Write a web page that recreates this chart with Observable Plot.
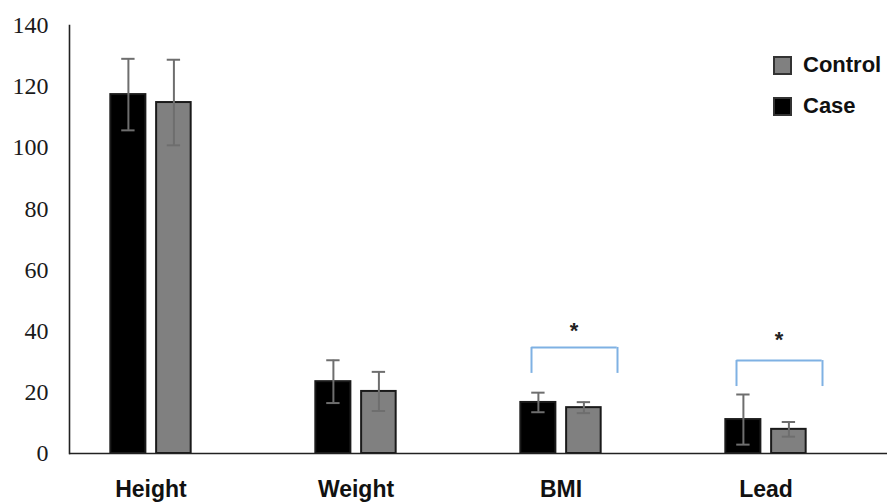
<!DOCTYPE html>
<html>
<head>
<meta charset="utf-8">
<script src="https://cdn.jsdelivr.net/npm/d3@7"></script>
<script src="https://cdn.jsdelivr.net/npm/@observablehq/plot@0.6"></script>
<style>
  body { margin: 0; background: #fff; }
  #wrap { position: relative; width: 887px; height: 504px; overflow: hidden; }
  #legend { position: absolute; left: 774px; top: 52px; }
</style>
</head>
<body>
<div id="wrap"><div id="chart"></div><div id="legend"></div></div>
<script>
// ---- data ----
const categories = ["Height", "Weight", "BMI", "Lead"];
const caseMean = [117.4, 23.5, 16.7, 11.1];
const caseSD = [11.7, 7.0, 3.2, 8.2];
const controlMean = [114.8, 20.3, 15.0, 7.9];
const controlSD = [14.0, 6.4, 1.8, 2.4];
const yTicks = [0, 20, 40, 60, 80, 100, 120, 140];
const sigCategories = ["BMI", "Lead"];
const sigBracketLow = [26.2, 21.9];
const sigBracketHigh = [34.7, 30.4];
const sigStarY = [41.5, 38.5];
const sigLabel = ["*", "*"];

// ---- tables ----
const caseRows = categories.map((c, i) => ({cat: c, group: "Case", mean: caseMean[i], lo: caseMean[i] - caseSD[i], hi: caseMean[i] + caseSD[i]}));
const controlRows = categories.map((c, i) => ({cat: c, group: "Control", mean: controlMean[i], lo: controlMean[i] - controlSD[i], hi: controlMean[i] + controlSD[i]}));
const sigRows = sigCategories.map((c, i) => ({cat: c, low: sigBracketLow[i], high: sigBracketHigh[i], star: sigStarY[i], label: sigLabel[i]}));

// ---- layout (pixels) ----
const W = 887, H = 504;
const xRange = [46.7, 869.3];
const half = (xRange[1] - xRange[0]) / categories.length / 2;
const caseBar = [-40.5, -4.8], controlBar = [5.3, 40.5];
const caseErrX = -22.6, controlErrX = 22.9, cap = 7;
const bracketX = [-29.5, 56.5], starDx = 13;
const barStroke = "#1a1a1a", errColor = "#6e6e6e", bracketColor = "#7fb1e3";

const colorDomain = ["Control", "Case"];
const colorRange = ["#808080", "#000000"];

function errMarks(rows, cx) {
  return [
    Plot.ruleX(rows, {x: "cat", y1: "lo", y2: "hi", dx: cx, stroke: errColor, strokeWidth: 2}),
    Plot.tickY(rows, {x: "cat", y: "lo", stroke: errColor, strokeWidth: 2, insetLeft: half + cx - cap, insetRight: half - cx - cap}),
    Plot.tickY(rows, {x: "cat", y: "hi", stroke: errColor, strokeWidth: 2, insetLeft: half + cx - cap, insetRight: half - cx - cap})
  ];
}

const chart = Plot.plot({
  width: W,
  height: H,
  marginLeft: 69,
  marginRight: 0,
  marginTop: 25,
  marginBottom: 51,
  style: {background: "#fff", overflow: "visible"},
  x: {domain: categories, range: xRange, padding: 0, axis: null, label: null},
  y: {domain: [0, 140], axis: null, label: null},
  color: {domain: colorDomain, range: colorRange},
  marks: [
    Plot.barY(caseRows, {x: "cat", y: "mean", fill: "group", stroke: barStroke, strokeWidth: 2,
      insetLeft: half + caseBar[0], insetRight: half - caseBar[1]}),
    Plot.barY(controlRows, {x: "cat", y: "mean", fill: "group", stroke: barStroke, strokeWidth: 2,
      insetLeft: half + controlBar[0], insetRight: half - controlBar[1]}),
    ...errMarks(caseRows, caseErrX),
    ...errMarks(controlRows, controlErrX),
    Plot.tickY(sigRows, {x: "cat", y: "high", stroke: bracketColor, strokeWidth: 2,
      insetLeft: half + bracketX[0], insetRight: half - bracketX[1]}),
    Plot.ruleX(sigRows, {x: "cat", y1: "low", y2: "high", dx: bracketX[0], stroke: bracketColor, strokeWidth: 2}),
    Plot.ruleX(sigRows, {x: "cat", y1: "low", y2: "high", dx: bracketX[1], stroke: bracketColor, strokeWidth: 2}),
    Plot.text(sigRows, {x: "cat", y: "star", text: "label", dx: starDx, dy: 4, fontSize: 22, fontWeight: "bold",
      fontFamily: "Liberation Sans, Arial, sans-serif", fill: "#222"}),
    Plot.ruleY([0], {stroke: "#222", strokeWidth: 1.6}),
    Plot.frame({anchor: "left", stroke: "#222", strokeWidth: 1.6}),
    Plot.axisY(yTicks, {anchor: "left", tickSize: 0, tickPadding: 21, fontSize: 24, label: null,
      fontFamily: "Liberation Serif, Times New Roman, serif", fill: "#1a1a1a"}),
    Plot.axisX({anchor: "bottom", tickSize: 0, tickPadding: 27, fontSize: 23, fontWeight: "bold", label: null,
      fontFamily: "Liberation Sans, Arial, sans-serif", fill: "#111"})
  ]
});
document.getElementById("chart").appendChild(chart);

const legend = chart.legend("color", {legend: "swatches", columns: 1, swatchSize: 17});
legend.style.fontFamily = "Liberation Sans, Arial, sans-serif";
legend.style.fontSize = "22px";
legend.style.fontWeight = "bold";
legend.style.color = "#111";
legend.style.margin = "0";
legend.style.minHeight = "0";
legend.querySelectorAll(":scope > div").forEach((d, i) => {
  d.style.display = "flex";
  d.style.alignItems = "center";
  d.style.height = "26px";
  d.style.marginBottom = i === 0 ? "15px" : "0";
  d.style.paddingBottom = "0";
});
legend.querySelectorAll("svg").forEach(s => {
  s.style.marginRight = "12px";
  s.style.overflow = "visible";
  s.querySelectorAll("rect").forEach(r => { r.setAttribute("stroke", "#333"); r.setAttribute("stroke-width", "2"); });
});
document.getElementById("legend").appendChild(legend);
</script>
</body>
</html>
